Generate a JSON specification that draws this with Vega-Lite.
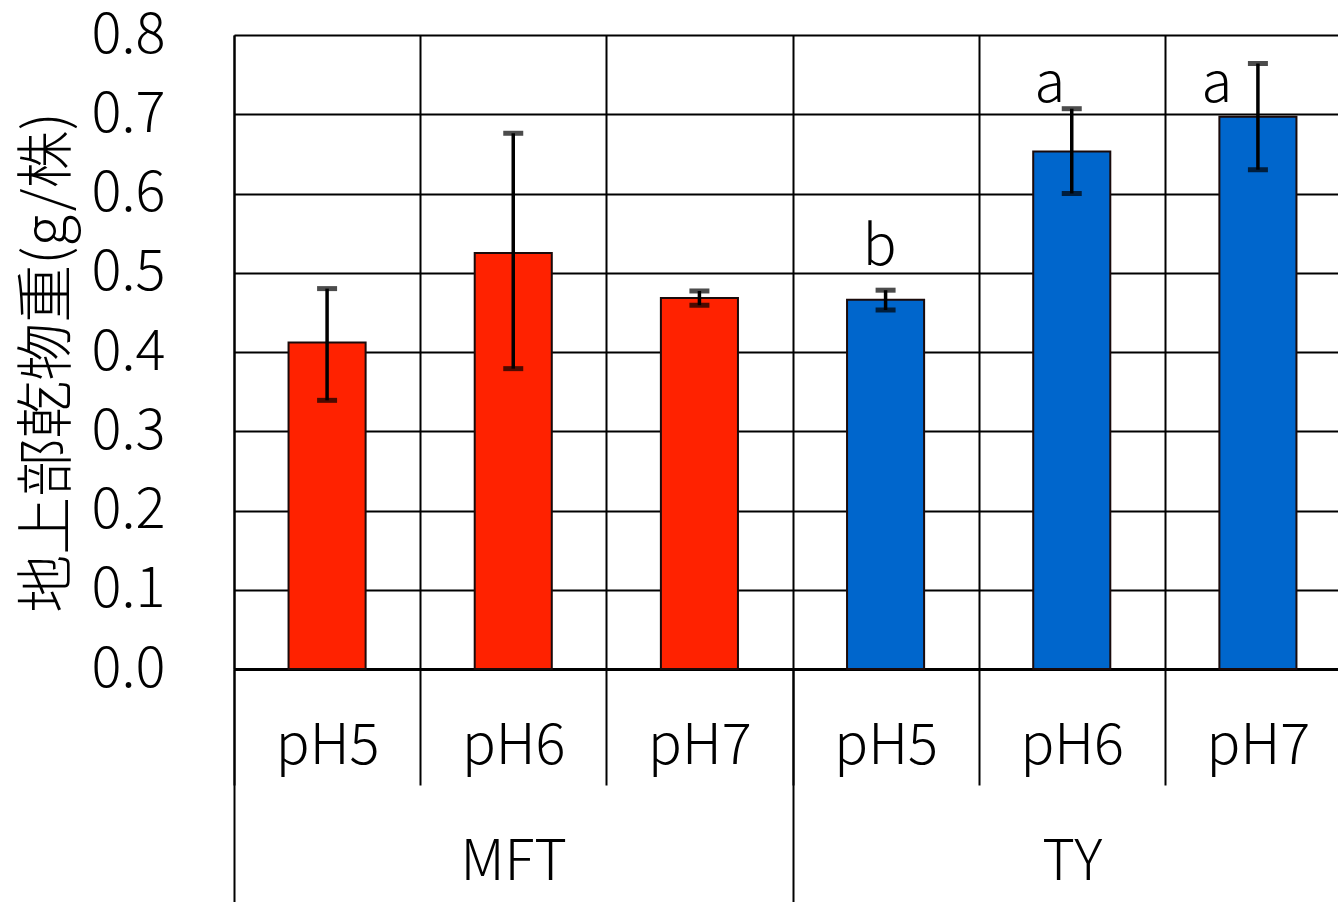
{
  "$schema": "https://vega.github.io/schema/vega-lite/v6.json",
  "autosize": {"type": "none"},
  "width": 1104,
  "height": 634,
  "padding": {"left": 234, "top": 35, "right": 0, "bottom": 233},
  "background": "white",
  "config": {"view": {"stroke": null}, "font": "Noto Sans CJK JP"},
  "data": {
    "values": [
      {"group": "MFT", "key": "MFT|pH5", "mean": 0.412, "lo": 0.339, "hi": 0.480},
      {"group": "MFT", "key": "MFT|pH6", "mean": 0.525, "lo": 0.379, "hi": 0.676},
      {"group": "MFT", "key": "MFT|pH7", "mean": 0.468, "lo": 0.459, "hi": 0.477},
      {"group": "TY", "key": "TY|pH5", "mean": 0.466, "lo": 0.453, "hi": 0.478, "letter": "b", "ly": 0.51},
      {"group": "TY", "key": "TY|pH6", "mean": 0.653, "lo": 0.600, "hi": 0.707, "letter": "a", "ly": 0.716},
      {"group": "TY", "key": "TY|pH7", "mean": 0.697, "lo": 0.630, "hi": 0.764, "letter": "a", "ly": 0.716}
    ]
  },
  "resolve": {"axis": {"x": "independent"}},
  "layer": [
    {
      "mark": {"type": "bar", "width": {"band": 0.414}, "stroke": "#1a0a0a", "strokeWidth": 2},
      "encoding": {
        "x": {
          "field": "key", "type": "nominal", "sort": null,
          "scale": {"type": "band", "paddingInner": 0, "paddingOuter": 0, "range": [0, 1117]},
          "axis": {
            "orient": "bottom",
            "title": null,
            "labelExpr": "datum.label ? split(datum.label,'|')[1] : ''",
            "labelAngle": 0, "labelFontSize": 56, "labelFontWeight": 300, "labelColor": "black",
            "labelBaseline": "alphabetic", "labelPadding": -22, "labelOverlap": false,
            "ticks": true, "tickBand": "extent", "tickSize": 116, "tickColor": "black", "tickWidth": 2,
            "domain": true, "domainColor": "black", "domainWidth": 3,
            "grid": true, "gridColor": "black", "gridWidth": 2
          }
        },
        "y": {
          "field": "mean", "type": "quantitative", "title": "地上部乾物重(g/株)",
          "scale": {"domain": [0, 0.8], "nice": false},
          "axis": {
            "values": [0, 0.1, 0.2, 0.3, 0.4, 0.5, 0.6, 0.7, 0.8],
            "format": ".1f", "ticks": false, "labelPadding": 69,
            "labelFontSize": 56, "labelFontWeight": 300, "labelColor": "black",
            "domain": true, "domainColor": "black", "domainWidth": 2,
            "grid": true, "gridColor": "black", "gridWidth": 2,
            "titleFontSize": 58, "titleFontWeight": 300, "titleColor": "black", "titlePadding": 14,
            "titleY": 327
          }
        },
        "color": {
          "field": "group", "type": "nominal",
          "scale": {"domain": ["MFT", "TY"], "range": ["#ff2200", "#0066cc"]},
          "legend": null
        }
      }
    },
    {
      "mark": {"type": "rule", "color": "black", "strokeWidth": 3.5},
      "encoding": {
        "x": {
          "field": "key", "type": "nominal", "sort": null,
          "axis": {
            "orient": "bottom",
            "title": null,
            "labelExpr": "datum.label && indexof(datum.label,'pH6')>=0 ? split(datum.label,'|')[0] : ''",
            "labelAngle": 0, "labelFontSize": 56, "labelFontWeight": 300, "labelColor": "black",
            "labelBaseline": "alphabetic", "labelPadding": -23, "labelOverlap": false,
            "ticks": true, "tickBand": "extent", "tickSize": 233, "tickColor": "black", "tickWidth": 2,
            "tickOpacity": {"condition": {"test": "!datum.value || datum.value=='MFT|pH7' || datum.value=='TY|pH7'", "value": 1}, "value": 0},
            "domain": false, "grid": false
          }
        },
        "y": {"field": "lo", "type": "quantitative", "title": "地上部乾物重(g/株)"},
        "y2": {"field": "hi"}
      }
    },
    {
      "mark": {"type": "tick", "color": "black", "size": 20, "thickness": 5},
      "encoding": {
        "x": {"field": "key", "type": "nominal", "sort": null, "axis": null},
        "y": {"field": "lo", "type": "quantitative", "title": "地上部乾物重(g/株)"}
      }
    },
    {
      "mark": {"type": "tick", "color": "black", "size": 20, "thickness": 5},
      "encoding": {
        "x": {"field": "key", "type": "nominal", "sort": null, "axis": null},
        "y": {"field": "hi", "type": "quantitative", "title": "地上部乾物重(g/株)"}
      }
    },
    {
      "transform": [{"filter": "datum.key=='TY|pH5'"}],
      "mark": {"type": "text", "fontSize": 56, "fontWeight": 300, "color": "black", "baseline": "alphabetic", "align": "center", "dx": -6},
      "encoding": {
        "x": {"field": "key", "type": "nominal", "sort": null, "axis": null},
        "y": {"field": "ly", "type": "quantitative", "title": "地上部乾物重(g/株)"},
        "text": {"field": "letter"}
      }
    },
    {
      "transform": [{"filter": "datum.key=='TY|pH6'"}],
      "mark": {"type": "text", "fontSize": 56, "fontWeight": 300, "color": "black", "baseline": "alphabetic", "align": "center", "dx": -22},
      "encoding": {
        "x": {"field": "key", "type": "nominal", "sort": null, "axis": null},
        "y": {"field": "ly", "type": "quantitative", "title": "地上部乾物重(g/株)"},
        "text": {"field": "letter"}
      }
    },
    {
      "transform": [{"filter": "datum.key=='TY|pH7'"}],
      "mark": {"type": "text", "fontSize": 56, "fontWeight": 300, "color": "black", "baseline": "alphabetic", "align": "center", "dx": -41},
      "encoding": {
        "x": {"field": "key", "type": "nominal", "sort": null, "axis": null},
        "y": {"field": "ly", "type": "quantitative", "title": "地上部乾物重(g/株)"},
        "text": {"field": "letter"}
      }
    }
  ]
}
